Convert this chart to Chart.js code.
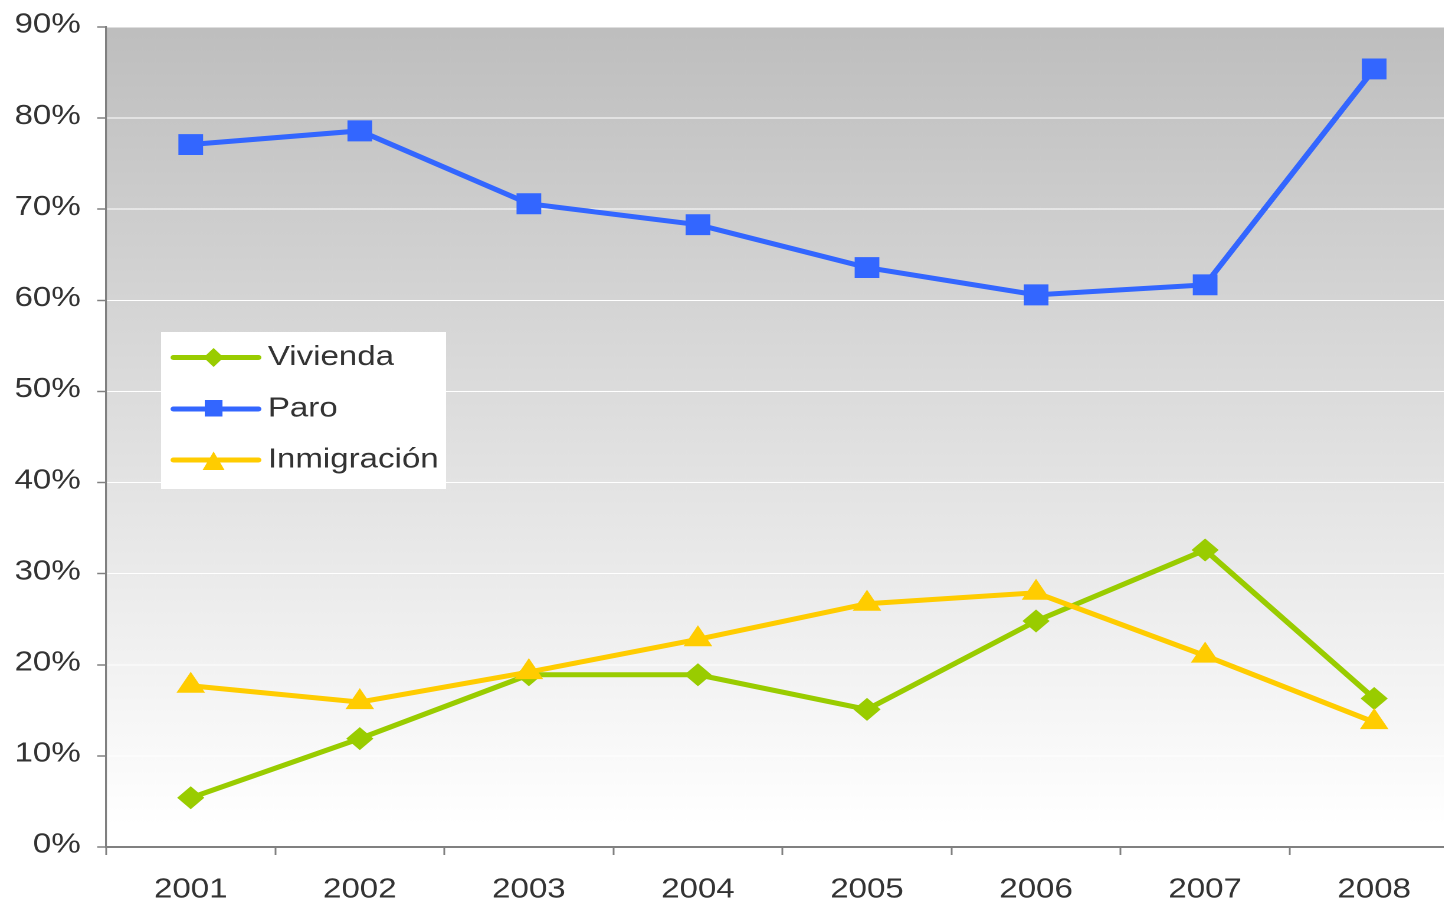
<!DOCTYPE html>
<html>
<head>
<meta charset="utf-8">
<script src="https://cdn.jsdelivr.net/npm/chart.js@4.4.1/dist/chart.umd.min.js"></script>
<style>
html,body{margin:0;padding:0;width:1444px;height:903px;overflow:hidden;background:#ffffff;}
#wrap{position:absolute;left:0;top:0;width:1251px;height:903px;transform:scaleX(1.18);transform-origin:0 0;}
#c{display:block;}
</style>
</head>
<body>
<div id="wrap"><canvas id="c" width="1251" height="903"></canvas></div>
<script>
// ---- data ----
const categories = ['2001', '2002', '2003', '2004', '2005', '2006', '2007', '2008'];
const vivienda    = [5.4, 11.9, 18.9, 18.9, 15.1, 24.8, 32.6, 16.3];
const paro        = [77.1, 78.6, 70.6, 68.3, 63.6, 60.6, 61.7, 85.4];
const inmigracion = [17.7, 15.9, 19.2, 22.8, 26.7, 27.9, 21.0, 13.7];
const seriesNames = ['Vivienda', 'Paro', 'Inmigración'];
const yTickValues = [0, 10, 20, 30, 40, 50, 60, 70, 80, 90];
const yTickLabels = ['0%', '10%', '20%', '30%', '40%', '50%', '60%', '70%', '80%', '90%'];

const FONT = '"Liberation Sans", Arial, sans-serif';
const TEXT = '#333333';
const AXIS = '#808080';

const bgPlugin = {
  id: 'plotBg',
  beforeDraw(chart) {
    const {ctx, chartArea: a} = chart;
    const g = ctx.createLinearGradient(0, a.top, 0, a.bottom);
    g.addColorStop(0, '#bebebe');
    g.addColorStop(0.97, '#ffffff');
    g.addColorStop(1, '#ffffff');
    ctx.save();
    ctx.fillStyle = g;
    ctx.fillRect(a.left, a.top, a.right - a.left, a.bottom - a.top);
    ctx.restore();
  }
};

const legendPlugin = {
  id: 'boxLegend',
  afterDatasetsDraw(chart) {
    const ctx = chart.ctx;
    ctx.save();
    ctx.fillStyle = '#ffffff';
    ctx.fillRect(136.5, 332, 241.5, 157);
    const rows = [357.5, 409, 460];
    chart.data.datasets.forEach((ds, i) => {
      const y = rows[i];
      ctx.strokeStyle = ds.borderColor;
      ctx.lineWidth = 5;
      ctx.lineCap = 'round';
      ctx.beginPath();
      ctx.moveTo(147, y);
      ctx.lineTo(219, y);
      ctx.stroke();
      ctx.fillStyle = ds.borderColor;
      const cx = 181;
      ctx.beginPath();
      if (ds.pointStyle === 'rectRot') {
        ctx.moveTo(cx, y - 9.5);
        ctx.lineTo(cx + 8.5, y);
        ctx.lineTo(cx, y + 9.5);
        ctx.lineTo(cx - 8.5, y);
        ctx.closePath();
      } else if (ds.pointStyle === 'rect') {
        ctx.rect(cx - 7.5, y - 9, 15, 16.5);
      } else {
        ctx.moveTo(cx, y - 8.5);
        ctx.lineTo(cx + 9.3, y + 10);
        ctx.lineTo(cx - 9.3, y + 10);
        ctx.closePath();
      }
      ctx.fill();
      ctx.fillStyle = TEXT;
      ctx.font = '28px ' + FONT;
      ctx.textBaseline = 'middle';
      ctx.textAlign = 'left';
      ctx.fillText(ds.label, 227, y);
    });
    ctx.restore();
  }
};

new Chart(document.getElementById('c'), {
  type: 'line',
  data: {
    labels: categories,
    datasets: [
      { label: seriesNames[0], data: vivienda, borderColor: '#99cc00', backgroundColor: '#99cc00',
        pointStyle: 'rectRot', pointRadius: 11.5, pointBorderWidth: 0, order: 2 },
      { label: seriesNames[1], data: paro, borderColor: '#3366ff', backgroundColor: '#3366ff',
        pointStyle: 'rect', pointRadius: 14.8, pointBorderWidth: 0, order: 1 },
      { label: seriesNames[2], data: inmigracion, borderColor: '#ffcc00', backgroundColor: '#ffcc00',
        pointStyle: 'triangle', pointRadius: 14, pointBorderWidth: 0, order: 0 }
    ].map(d => Object.assign({ borderWidth: 5, tension: 0, fill: false, clip: false, pointHoverRadius: d.pointRadius }, d))
  },
  options: {
    responsive: false,
    maintainAspectRatio: false,
    devicePixelRatio: 2,
    animation: false,
    events: [],
    layout: { padding: { left: 0, top: 27, right: 2, bottom: 0 } },
    plugins: { legend: { display: false }, tooltip: { enabled: false } },
    scales: {
      x: {
        type: 'category',
        offset: true,
        grid: { offset: true, drawOnChartArea: false, drawTicks: true, tickLength: 8, tickColor: AXIS, tickWidth: 1.5 },
        border: { color: AXIS, width: 2 },
        ticks: { color: TEXT, font: { family: FONT, size: 28 }, padding: 18, maxRotation: 0, autoSkip: false },
        afterFit(scale) { scale.height = 56; }
      },
      y: {
        min: 0, max: 90,
        afterBuildTicks(scale) { scale.ticks = yTickValues.map(v => ({ value: v })); },
        grid: { color: '#ffffff', lineWidth: 1, tickLength: 7.6, tickColor: AXIS, tickWidth: 1.5 },
        border: { color: AXIS, width: 1.6 },
        ticks: {
          color: TEXT, font: { family: FONT, size: 28, lineHeight: 0.9 }, padding: 14, labelOffset: -2,
          callback: (v) => yTickLabels[yTickValues.indexOf(v)]
        },
        afterFit(scale) { scale.width = 90; }
      }
    }
  },
  plugins: [bgPlugin, legendPlugin]
});
</script>
</body>
</html>
